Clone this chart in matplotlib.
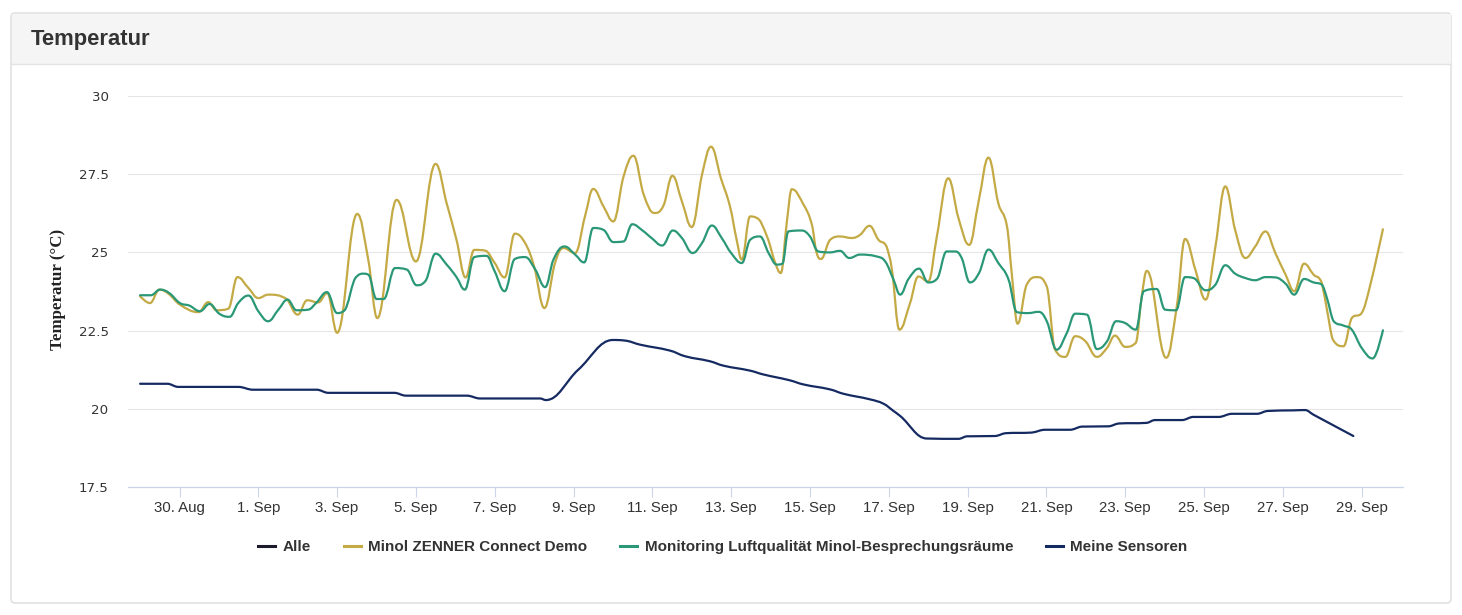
import matplotlib
matplotlib.use("Agg")
import matplotlib.pyplot as plt
from matplotlib.path import Path
from matplotlib.patches import PathPatch, FancyBboxPatch, Rectangle
from matplotlib.lines import Line2D

# x = days since 29 Aug (0 = 29 Aug, 3 = 1 Sep, ...)
tick_days = [1, 3, 5, 7, 9, 11, 13, 15, 17, 19, 21, 23, 25, 27, 29, 31]
tick_labels = ["30. Aug", "1. Sep", "3. Sep", "5. Sep", "7. Sep", "9. Sep", "11. Sep",
               "13. Sep", "15. Sep", "17. Sep", "19. Sep", "21. Sep", "23. Sep",
               "25. Sep", "27. Sep", "29. Sep"]
y_ticks = [17.5, 20, 22.5, 25, 27.5, 30]
y_tick_labels = ["17.5", "20", "22.5", "25", "27.5", "30"]

series_names = ["Alle", "Minol ZENNER Connect Demo",
                "Monitoring Luftqualität Minol-Besprechungsräume", "Meine Sensoren"]

zenner_x = [0.00, 0.25, 0.49, 0.72, 1.01, 1.48, 1.73, 1.94, 2.24, 2.47, 2.75, 3.00, 3.25,
            3.72, 4.00, 4.24, 4.52, 4.75, 5.00, 5.51, 5.79, 6.02, 6.51, 7.00, 7.50, 7.78,
            8.03, 8.26, 8.48, 8.75, 9.00, 9.25, 9.51, 9.77, 10.00, 10.26, 10.53, 10.74,
            11.04, 11.29, 11.50, 11.76, 12.01, 12.27, 12.52, 12.78, 13.05, 13.28, 13.51,
            13.75, 14.00, 14.26, 14.49, 14.74, 14.97, 15.14, 15.27, 15.48, 15.65, 15.91,
            16.12, 16.26, 16.41, 16.54, 16.84, 17.05, 17.17, 17.28, 17.51, 17.76, 18.06,
            18.27, 18.51, 18.74, 18.95, 19.08, 19.27, 19.54, 19.75, 20.00, 20.22, 20.51,
            20.77, 21.04, 21.28, 21.53, 21.78, 22.00, 22.12, 22.27, 22.50, 22.76, 23.01,
            23.22, 23.48, 23.73, 23.99, 24.28, 24.54, 24.74, 25.00, 25.27, 25.42, 25.55,
            26.04, 26.31, 26.52, 26.78, 27.04, 27.29, 27.54, 27.79, 28.05, 28.30, 28.56,
            28.81, 29.07, 29.29, 29.54, 29.78, 29.99, 30.12, 30.27, 30.54, 30.75, 31.00,
            31.21, 31.54]
zenner_y = [23.60, 23.38, 23.81, 23.68, 23.33, 23.09, 23.41, 23.15, 23.20, 24.21, 23.86,
            23.54, 23.65, 23.51, 23.01, 23.47, 23.40, 23.70, 22.43, 26.23, 24.77, 22.90,
            26.68, 24.71, 27.83, 26.57, 25.40, 24.20, 25.08, 25.06, 24.66, 24.20, 25.60,
            25.30, 24.55, 23.22, 24.66, 25.14, 24.98, 26.15, 27.03, 26.47, 25.99, 27.43,
            28.09, 26.85, 26.26, 26.49, 27.45, 26.63, 25.81, 27.48, 28.38, 27.37, 26.47,
            25.40, 24.77, 26.15, 26.10, 25.51, 24.66, 24.34, 25.94, 27.02, 26.52, 25.88,
            24.98, 24.79, 25.40, 25.51, 25.46, 25.56, 25.85, 25.40, 25.17, 24.45, 22.53,
            23.38, 24.23, 24.07, 25.51, 27.37, 26.09, 25.24, 26.63, 28.03, 26.57, 25.83,
            24.34, 22.72, 23.97, 24.21, 23.91, 21.89, 21.66, 22.32, 22.16, 21.66, 21.95,
            22.34, 21.98, 22.11, 23.60, 24.41, 21.63, 23.28, 25.43, 24.45, 23.49, 25.19,
            27.11, 25.72, 24.82, 25.19, 25.67, 24.98, 24.29, 23.76, 24.64, 24.29, 24.02,
            23.17, 22.21, 22.00, 22.90, 23.06, 23.91, 25.74]

luft_x = [0.00, 0.27, 0.51, 0.74, 1.01, 1.25, 1.52, 1.76, 2.01, 2.27, 2.49, 2.75, 3.00,
          3.25, 3.51, 3.74, 3.97, 4.27, 4.48, 4.74, 5.00, 5.16, 5.50, 5.67, 5.79, 6.00,
          6.18, 6.47, 6.77, 7.02, 7.23, 7.50, 7.78, 8.03, 8.24, 8.48, 8.79, 9.00, 9.25,
          9.51, 9.77, 10.03, 10.28, 10.49, 10.77, 11.04, 11.27, 11.50, 11.76, 12.01, 12.27,
          12.49, 12.75, 12.98, 13.25, 13.52, 13.75, 14.02, 14.26, 14.51, 14.76, 15.00,
          15.27, 15.48, 15.73, 15.95, 16.16, 16.30, 16.45, 16.79, 17.00, 17.21, 17.51,
          17.76, 18.00, 18.27, 18.69, 18.91, 19.12, 19.29, 19.50, 19.77, 20.00, 20.22,
          20.47, 20.68, 20.85, 21.06, 21.29, 21.53, 21.78, 22.04, 22.25, 22.54, 22.80,
          23.01, 23.26, 23.52, 23.73, 24.03, 24.28, 24.54, 24.77, 25.00, 25.27, 25.47,
          25.80, 26.01, 26.29, 26.52, 26.73, 27.04, 27.29, 27.54, 27.79, 28.05, 28.30,
          28.56, 28.81, 29.07, 29.29, 29.54, 29.78, 29.99, 30.12, 30.29, 30.54, 30.75,
          31.00, 31.28, 31.54]
luft_y = [23.63, 23.63, 23.81, 23.70, 23.38, 23.30, 23.12, 23.35, 23.04, 22.94, 23.38,
          23.62, 23.12, 22.80, 23.17, 23.49, 23.15, 23.17, 23.40, 23.73, 23.06, 23.12,
          24.23, 24.32, 24.29, 23.51, 23.51, 24.50, 24.45, 23.95, 24.07, 24.96, 24.61,
          24.21, 23.81, 24.85, 24.89, 24.39, 23.76, 24.79, 24.85, 24.45, 23.89, 24.77,
          25.19, 24.93, 24.68, 25.78, 25.72, 25.33, 25.35, 25.90, 25.70, 25.46, 25.22,
          25.70, 25.46, 24.98, 25.30, 25.86, 25.46, 24.98, 24.66, 25.40, 25.51, 24.98,
          24.61, 24.64, 25.67, 25.70, 25.51, 25.03, 25.00, 25.05, 24.82, 24.93, 24.87,
          24.71, 24.13, 23.65, 24.15, 24.48, 24.04, 24.15, 25.03, 25.03, 24.82, 24.04,
          24.34, 25.09, 24.66, 24.13, 23.09, 23.06, 23.10, 22.80, 21.89, 22.43, 23.04,
          23.01, 21.91, 22.16, 22.80, 22.74, 22.53, 23.76, 23.83, 23.17, 23.15, 24.21,
          24.18, 23.79, 23.97, 24.59, 24.32, 24.18, 24.11, 24.21, 24.20, 24.00, 23.65,
          24.15, 24.04, 23.97, 23.54, 22.80, 22.66, 22.53, 21.95, 21.61, 22.51]

meine_x = [0.00, 0.69, 0.97, 2.49, 2.87, 4.48, 4.78, 6.45, 6.75, 8.29, 8.63, 10.15, 10.30,
           11.12, 12.00, 12.31, 12.69, 13.45, 13.83, 14.46, 14.80, 15.48, 15.81, 16.49,
           16.83, 17.51, 17.85, 18.53, 18.87, 19.12, 19.29, 19.96, 20.77, 20.98, 21.70,
           21.96, 22.63, 22.97, 23.60, 23.90, 24.58, 24.83, 25.55, 25.76, 26.44, 26.73,
           27.37, 27.71, 28.34, 28.60, 29.27, 29.56, 29.78, 30.79]
meine_y = [20.80, 20.80, 20.70, 20.70, 20.61, 20.61, 20.51, 20.51, 20.42, 20.42, 20.33,
           20.33, 20.28, 21.25, 22.20, 22.18, 22.05, 21.86, 21.68, 21.52, 21.38, 21.22,
           21.10, 20.91, 20.78, 20.62, 20.48, 20.30, 20.16, 19.93, 19.77, 19.05, 19.04,
           19.12, 19.13, 19.22, 19.24, 19.33, 19.33, 19.43, 19.44, 19.53, 19.55, 19.64,
           19.64, 19.74, 19.74, 19.84, 19.84, 19.93, 19.95, 19.96, 19.81, 19.13]

colors = {"Alle": "#1b1b2b", "Minol ZENNER Connect Demo": "#c4aa45",
          "Monitoring Luftqualität Minol-Besprechungsräume": "#2a9877",
          "Meine Sensoren": "#162a62"}


def spline_path(xs, ys, smoothing=1.5):
    # same control point rule as a Highcharts "spline" series
    n = len(xs)
    denom = smoothing + 1
    right = [None] * n
    verts = [(xs[0], ys[0])]
    codes = [Path.MOVETO]
    for i in range(1, n):
        x, y = xs[i], ys[i]
        lx, ly = xs[i - 1], ys[i - 1]
        left_c = (x, y)
        if i < n - 1:
            nx, ny = xs[i + 1], ys[i + 1]
            lcx = (smoothing * x + lx) / denom
            lcy = (smoothing * y + ly) / denom
            rcx = (smoothing * x + nx) / denom
            rcy = (smoothing * y + ny) / denom
            corr = 0.0
            if rcx != lcx:
                corr = (rcy - lcy) * (rcx - x) / (rcx - lcx) + y - rcy
            lcy += corr
            rcy += corr
            if lcy > ly and lcy > y:
                lcy = max(ly, y); rcy = 2 * y - lcy
            elif lcy < ly and lcy < y:
                lcy = min(ly, y); rcy = 2 * y - lcy
            if rcy > ny and rcy > y:
                rcy = max(ny, y); lcy = 2 * y - rcy
            elif rcy < ny and rcy < y:
                rcy = min(ny, y); lcy = 2 * y - rcy
            right[i] = (rcx, rcy)
            left_c = (lcx, lcy)
        prev_r = right[i - 1] if right[i - 1] is not None else (lx, ly)
        verts += [prev_r, left_c, (x, y)]
        codes += [Path.CURVE4] * 3
    return Path(verts, codes)


W, H = 1462, 615
fig = plt.figure(figsize=(W / 100, H / 100), dpi=100)
fig.patch.set_facecolor("white")

# card background in pixel coordinates
bg = fig.add_axes([0, 0, 1, 1])
bg.set_xlim(0, W)
bg.set_ylim(H, 0)
bg.axis("off")
bg.add_patch(FancyBboxPatch((11, 13), 1440, 590, boxstyle="round,pad=0,rounding_size=4",
                            facecolor="white", edgecolor="#dcdcdc", lw=1))
bg.add_patch(Rectangle((11.5, 13.5), 1439, 50.5, facecolor="#f5f5f5", edgecolor="none"))
bg.plot([11.5, 1450.5], [64, 64], color="#e3e3e3", lw=1)
bg.text(31, 39, "Temperatur", fontsize=15.8, fontweight="bold", color="#333333",
        family="Liberation Sans", va="center", ha="left")

ax = fig.add_axes([128 / W, 1 - 487 / H, (1403 - 128) / W, (487 - 96) / H])
ax.set_facecolor("none")
ax.set_xlim(-0.307, 32.05)
ax.set_ylim(17.5, 30)

for name, xs, ys in [("Minol ZENNER Connect Demo", zenner_x, zenner_y),
                     ("Monitoring Luftqualität Minol-Besprechungsräume", luft_x, luft_y),
                     ("Meine Sensoren", meine_x, meine_y)]:
    ax.add_patch(PathPatch(spline_path(xs, ys), facecolor="none", edgecolor=colors[name],
                           lw=1.6, capstyle="round", joinstyle="round", zorder=3))

ax.set_yticks(y_ticks)
ax.set_yticklabels(y_tick_labels)
ax.set_xticks(tick_days)
ax.set_xticklabels(tick_labels)
ax.grid(axis="y", color="#e6e6e6", lw=0.8)
ax.set_axisbelow(True)
for s in ["left", "right", "top"]:
    ax.spines[s].set_visible(False)
ax.spines["bottom"].set_color("#ccd6eb")
ax.spines["bottom"].set_linewidth(0.9)
ax.tick_params(axis="y", length=0, pad=14, labelsize=9.6, labelcolor="#333333")
ax.tick_params(axis="x", length=7, width=0.8, color="#ccd6eb", pad=3,
               labelsize=10.8, labelcolor="#333333")
for lab in ax.get_xticklabels():
    lab.set_family("Liberation Sans")
ax.set_ylabel("Temperatur (°C)", fontsize=12.2, fontweight="bold", family="Liberation Serif",
              color="#222222")
ax.yaxis.set_label_coords((66 - 128) / 1275, 0.504)

handles = [Line2D([], [], color=colors[n], lw=2.2) for n in series_names]
leg = fig.legend(handles, series_names, loc="center", bbox_to_anchor=(723 / W, 1 - 547 / H),
                 ncol=4, frameon=False, handlelength=1.1, handletextpad=0.5,
                 columnspacing=2.15, prop={"family": "Liberation Sans", "weight": "bold",
                                           "size": 11})
for t in leg.get_texts():
    t.set_color("#333333")

fig.savefig("out.png", dpi=100)
